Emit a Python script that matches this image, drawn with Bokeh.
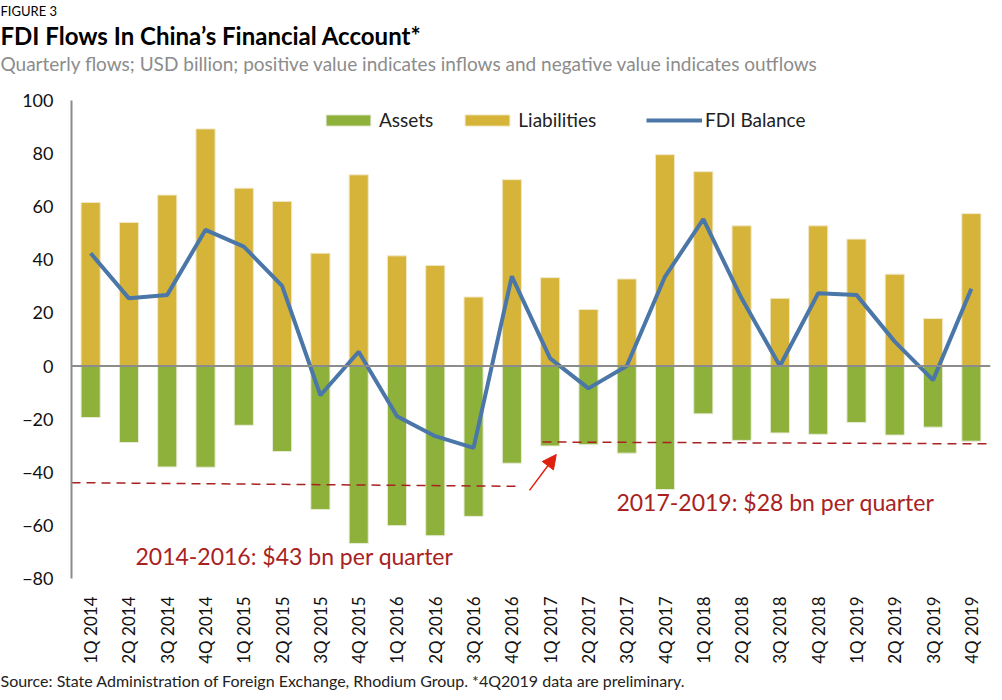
import math
from bokeh.plotting import figure
from bokeh.models import (FactorRange, Range1d, Span, Legend, LegendItem, Label,
                          Arrow, NormalHead, Title, FixedTicker, ColumnDataSource)
from bokeh.embed import file_html
from bokeh.resources import INLINE

quarters = ["1Q 2014", "2Q 2014", "3Q 2014", "4Q 2014",
            "1Q 2015", "2Q 2015", "3Q 2015", "4Q 2015",
            "1Q 2016", "2Q 2016", "3Q 2016", "4Q 2016",
            "1Q 2017", "2Q 2017", "3Q 2017", "4Q 2017",
            "1Q 2018", "2Q 2018", "3Q 2018", "4Q 2018",
            "1Q 2019", "2Q 2019", "3Q 2019", "4Q 2019"]
assets = [-19.4, -28.8, -38.0, -38.1, -22.3, -32.2, -54.0, -66.8,
          -60.1, -63.9, -56.6, -36.6, -30.1, -29.6, -32.8, -46.5,
          -18.0, -28.0, -25.2, -25.7, -21.3, -26.0, -23.0, -28.3]
liabilities = [61.6, 54.1, 64.4, 89.3, 67.0, 62.0, 42.5, 72.0,
               41.5, 37.9, 26.0, 70.2, 33.3, 21.3, 32.8, 79.6,
               73.2, 52.8, 25.5, 52.8, 47.8, 34.6, 17.9, 57.4]
fdi_balance = [42.5, 25.5, 26.8, 51.3, 45.0, 30.2, -11.0, 5.4,
               -18.9, -26.4, -30.8, 33.8, 2.9, -8.4, 0.0, 33.7,
               55.3, 25.5, 0.0, 27.4, 26.8, 9.2, -5.3, 29.1]
y_ticks = [-80, -60, -40, -20, 0, 20, 40, 60, 80, 100]

# annotation guide lines (synthetic categorical x, value y)
avg1_x = [0.0, 11.75]
avg1_y = [-43.9, -45.3]
avg2_x = [12.3, 23.9]
avg2_y = [-28.6, -29.3]

FONT = "Lato"
GREEN = "#8db13b"
GOLD = "#d6b43a"
BLUE = "#4a76a8"
DRED = "#a82222"
LEFT = 71

src = ColumnDataSource(dict(q=quarters, a=assets, l=liabilities, b=fdi_balance))

p = figure(x_range=FactorRange(*quarters), y_range=Range1d(-80, 100),
           frame_width=919, frame_height=478,
           min_border_left=LEFT, min_border_right=3, min_border_top=0, min_border_bottom=0,
           output_backend="svg", toolbar_location=None)

r_a = p.vbar(x="q", top="a", bottom=0, width=0.5, source=src,
             fill_color=GREEN, line_color="#e9ecd9", line_width=1)
r_l = p.vbar(x="q", top="l", bottom=0, width=0.5, source=src,
             fill_color=GOLD, line_color="#f0e8c8", line_width=1)

p.add_layout(Span(location=0, dimension="width", line_color="#8c8c8c", line_width=2))

r_b = p.line(x="q", y="b", source=src, line_color=BLUE, line_width=4)

p.line(x=avg1_x, y=avg1_y, line_color=DRED, line_width=1.5, line_dash="9 6")
p.line(x=avg2_x, y=avg2_y, line_color=DRED, line_width=1.5, line_dash="9 6")

p.add_layout(Arrow(end=NormalHead(size=14, fill_color="#e0200f", line_color="#e0200f"),
                   x_start=11.96, y_start=-46.8, x_end=12.66, y_end=-33.3,
                   line_color="#e0200f", line_width=1.5))

p.add_layout(Label(x=1.67, y=-71.7, text="2014-2016: $43 bn per quarter",
                   text_font=FONT, text_font_size="23px", text_color=DRED,
                   text_baseline="middle"))
p.add_layout(Label(x=14.23, y=-51.3, text="2017-2019: $28 bn per quarter",
                   text_font=FONT, text_font_size="23px", text_color=DRED,
                   text_baseline="middle"))

legend_kw = dict(orientation="horizontal", glyph_width=56, glyph_height=14,
                 label_standoff=3, spacing=26, padding=0, margin=0,
                 border_line_color=None, background_fill_alpha=0,
                 label_text_font=FONT, label_text_font_size="19px",
                 label_text_color="#222222")
legend1 = Legend(items=[LegendItem(label="Assets", renderers=[r_a]),
                        LegendItem(label="Liabilities", renderers=[r_l])],
                 location=(249, 447), **legend_kw)
legend2 = Legend(items=[LegendItem(label="FDI Balance", renderers=[r_b])],
                 location=(575, 447), **legend_kw)
p.add_layout(legend1)
p.add_layout(legend2)

p.xgrid.grid_line_color = None
p.ygrid.grid_line_color = None
p.outline_line_color = None

p.yaxis.ticker = FixedTicker(ticks=y_ticks)
p.yaxis.major_tick_line_color = None
p.yaxis.minor_tick_line_color = None
p.yaxis.axis_line_color = "#8c8c8c"
p.yaxis.axis_line_width = 2
p.yaxis.major_label_text_font = FONT
p.yaxis.major_label_text_font_size = "18px"
p.yaxis.major_label_text_color = "#111111"
p.yaxis.major_label_standoff = 12

p.xaxis.axis_line_color = None
p.xaxis.major_tick_line_color = None
p.xaxis.minor_tick_line_color = None
p.xaxis.major_label_orientation = math.pi / 2
p.xaxis.major_label_text_font = FONT
p.xaxis.major_label_text_font_size = "17px"
p.xaxis.major_label_text_color = "#111111"
p.xaxis.major_label_standoff = 12

p.title.text = "FIGURE 3"
p.title.align = "left"
p.title.offset = -LEFT
p.title.text_font = FONT
p.title.text_font_size = "13px"
p.title.text_font_style = "normal"
p.title.text_color = "#000000"
p.title.standoff = 0

# spacer between subtitle and plot area
p.add_layout(Title(text=" ", text_font_size="2px", standoff=22), "above")
p.add_layout(Title(text="Quarterly flows; USD billion; positive value indicates inflows and negative value indicates outflows",
                   align="left", offset=-LEFT, text_font=FONT, text_font_size="19px",
                   text_font_style="normal", text_color="#8c8c8c", standoff=0), "above")
p.add_layout(Title(text="FDI Flows In China\u2019s Financial Account*", align="left", offset=-LEFT,
                   text_font=FONT, text_font_size="24px", text_font_style="bold",
                   text_color="#000000", standoff=0), "above")
p.add_layout(Title(text="Source: State Administration of Foreign Exchange, Rhodium Group. *4Q2019 data are preliminary.",
                   align="left", offset=-LEFT, text_font=FONT, text_font_size="16px",
                   text_font_style="normal", text_color="#222222", standoff=4), "below")

open("out.html", "w").write(file_html(p, INLINE))
